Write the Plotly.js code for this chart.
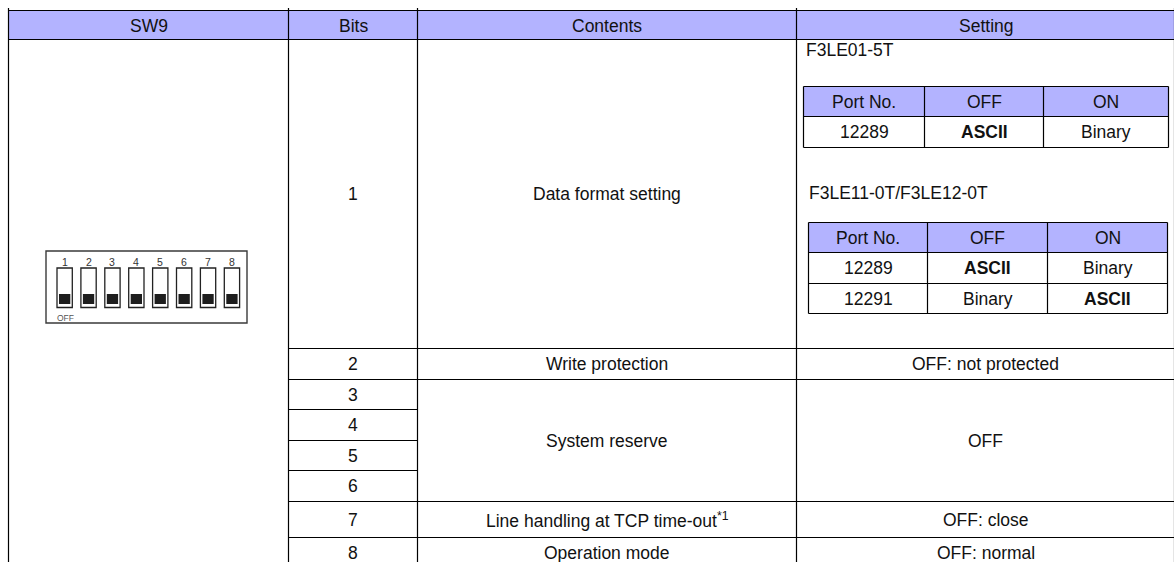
<!DOCTYPE html>
<html>
<head>
<meta charset="utf-8">
<script src="https://cdn.plot.ly/plotly-3.0.1.min.js"></script>
<style>
  html, body { margin: 0; padding: 0; background: #ffffff; }
  #chart { width: 1174px; height: 562px; }
</style>
</head>
<body>
<div id="chart"></div>
<script>
// ---------------- DATA ----------------
const HEADERS = ["SW9", "Bits", "Contents", "Setting"];
const BITS = ["1", "2", "3", "4", "5", "6", "7", "8"];
const CONTENT_LABELS = ["Data format setting", "Write protection", "System reserve",
  "Line handling at TCP time-out<sup>*1</sup>", "Operation mode"];
const CONTENT_SPANS = [[1, 1], [2, 2], [3, 6], [7, 7], [8, 8]];
const SETTING_LABELS = ["", "OFF: not protected", "OFF", "OFF: close", "OFF: normal"];
const MODELS = ["F3LE01-5T", "F3LE11-0T/F3LE12-0T"];
const PORT_COLUMNS = ["Port No.", "OFF", "ON"];
const PORTS_A = ["12289"];
const OFF_A = ["ASCII"];
const ON_A = ["Binary"];
const PORTS_B = ["12289", "12291"];
const OFF_B = ["ASCII", "Binary"];
const ON_B = ["Binary", "ASCII"];
const SWITCH_LABELS = ["1", "2", "3", "4", "5", "6", "7", "8"];
const SWITCH_STATES = ["OFF", "OFF", "OFF", "OFF", "OFF", "OFF", "OFF", "OFF"];
const EMPHASIS_VALUE = "ASCII";

// ---------------- LAYOUT / STYLE ----------------
const W = 1174, H = 562;
const COL_X = [8.5, 288.5, 417.5, 796.5, 1174.5];
const TABLE_TOP = 10.5, HEAD_BOTTOM = 39.5, TABLE_BOTTOM = 568.5;
const ROW_Y = [39.5, 348.5, 379.5, 409.5, 440.5, 470.5, 501.5, 537.5, 568.5];
const SUB_A = { x: [803.5, 924.5, 1043.5, 1168.5], y: [86.5, 116.5, 147.5] };
const SUB_B = { x: [808.5, 927.5, 1047.5, 1167.5], y: [222.5, 252.5, 283.5, 313.5] };
const MODEL_POS = [{ x: 804, y: 50 }, { x: 807, y: 193 }];
const DIP = { x0: 46, x1: 247, y0: 251, y1: 323, slotX: 57, pitch: 23.9, slotW: 15.3,
  slotY0: 268, slotY1: 307.5, knobY0: 294, knobY1: 304, numY: 262, offX: 55, offY: 318 };
const HEAD_FILL = "#b3b3ff";
const LINE = { color: "#000000", width: 1.2 };
const FONT = { family: "Liberation Sans, Arial, sans-serif", size: 17.5, color: "#111111" };

const shapes = [];
const annotations = [];

function hline(y, x0, x1, line) {
  shapes.push({ type: "line", xref: "x", yref: "y", x0: x0, x1: x1, y0: y, y1: y, line: line || LINE });
}
function vline(x, y0, y1, line) {
  shapes.push({ type: "line", xref: "x", yref: "y", x0: x, x1: x, y0: y0, y1: y1, line: line || LINE });
}
function rect(x0, y0, x1, y1, fill, line) {
  shapes.push({ type: "rect", xref: "x", yref: "y", x0: x0, x1: x1, y0: y0, y1: y1,
    fillcolor: fill, line: line || { width: 0 }, layer: "below" });
}
function text(t, x, y, opts) {
  opts = opts || {};
  annotations.push(Object.assign({
    text: t, x: x, y: y, xref: "x", yref: "y", showarrow: false,
    xanchor: "center", yanchor: "middle", font: FONT
  }, opts));
}
function emph(v) { return v === EMPHASIS_VALUE ? "<b>" + v + "</b>" : v; }

// Header
rect(COL_X[0], TABLE_TOP, COL_X[4], HEAD_BOTTOM, HEAD_FILL);
HEADERS.forEach(function (h, i) {
  text(h, (COL_X[i] + COL_X[i + 1]) / 2, (TABLE_TOP + HEAD_BOTTOM) / 2 + 0.5);
});
hline(TABLE_TOP, COL_X[0], COL_X[4]);
hline(HEAD_BOTTOM, COL_X[0], COL_X[4]);
COL_X.forEach(function (x) { vline(x, TABLE_TOP - 2.5, TABLE_BOTTOM); });

// Bits column
BITS.forEach(function (b, i) {
  text(b, (COL_X[1] + COL_X[2]) / 2, (ROW_Y[i] + ROW_Y[i + 1]) / 2);
  if (i > 0) hline(ROW_Y[i], COL_X[1], COL_X[2]);
});

// Contents + Setting columns (merged spans)
CONTENT_LABELS.forEach(function (c, i) {
  const s = CONTENT_SPANS[i];
  const y0 = ROW_Y[s[0] - 1], y1 = ROW_Y[s[1]];
  text(c, (COL_X[2] + COL_X[3]) / 2, (y0 + y1) / 2);
  if (SETTING_LABELS[i]) text(SETTING_LABELS[i], (COL_X[3] + COL_X[4]) / 2, (y0 + y1) / 2);
  if (i > 0) hline(y0, COL_X[2], COL_X[4]);
});

// Sub tables in Setting cell
function subTable(g, ports, offs, ons) {
  rect(g.x[0], g.y[0], g.x[3], g.y[1], HEAD_FILL);
  PORT_COLUMNS.forEach(function (p, j) {
    text(p, (g.x[j] + g.x[j + 1]) / 2, (g.y[0] + g.y[1]) / 2);
  });
  const rows = ports.map(function (p, k) { return [p, emph(offs[k]), emph(ons[k])]; });
  rows.forEach(function (r, k) {
    r.forEach(function (v, j) {
      text(v, (g.x[j] + g.x[j + 1]) / 2, (g.y[k + 1] + g.y[k + 2]) / 2);
    });
  });
  g.y.forEach(function (y) { hline(y, g.x[0], g.x[3]); });
  g.x.forEach(function (x) { vline(x, g.y[0], g.y[g.y.length - 1]); });
}
MODELS.forEach(function (m, i) {
  text(m, MODEL_POS[i].x, MODEL_POS[i].y, { xanchor: "left" });
});
subTable(SUB_A, PORTS_A, OFF_A, ON_A);
subTable(SUB_B, PORTS_B, OFF_B, ON_B);

// DIP switch drawing
shapes.push({ type: "rect", xref: "x", yref: "y", x0: DIP.x0, x1: DIP.x1, y0: DIP.y0, y1: DIP.y1,
  line: { color: "#3a3a3a", width: 1.4 }, fillcolor: "rgba(0,0,0,0)" });
SWITCH_LABELS.forEach(function (lab, i) {
  const x0 = DIP.slotX + i * DIP.pitch, x1 = x0 + DIP.slotW;
  shapes.push({ type: "rect", xref: "x", yref: "y", x0: x0, x1: x1, y0: DIP.slotY0, y1: DIP.slotY1,
    line: { color: "#222222", width: 1.3 }, fillcolor: "#ffffff" });
  const on = SWITCH_STATES[i] === "ON";
  const ky0 = on ? DIP.slotY0 + 2.5 : DIP.knobY0, ky1 = on ? DIP.slotY0 + 12.5 : DIP.knobY1;
  shapes.push({ type: "rect", xref: "x", yref: "y", x0: x0 + 2, x1: x1 - 2, y0: ky0, y1: ky1,
    line: { width: 0 }, fillcolor: "#1e1e1e" });
  text(lab, (x0 + x1) / 2, DIP.numY, { font: { family: FONT.family, size: 10.5, color: "#333333" } });
});
text(SWITCH_STATES[0], DIP.offX, DIP.offY, { xanchor: "left",
  font: { family: FONT.family, size: 8.5, color: "#555555" } });

const layout = {
  width: W, height: H,
  margin: { l: 0, r: 0, t: 0, b: 0, pad: 0 },
  paper_bgcolor: "#ffffff", plot_bgcolor: "#ffffff",
  showlegend: false,
  xaxis: { range: [0, W], visible: false, fixedrange: true },
  yaxis: { range: [H, 0], visible: false, fixedrange: true },
  shapes: shapes,
  annotations: annotations
};
Plotly.newPlot("chart", [], layout, { staticPlot: true, displayModeBar: false });
</script>
</body>
</html>
